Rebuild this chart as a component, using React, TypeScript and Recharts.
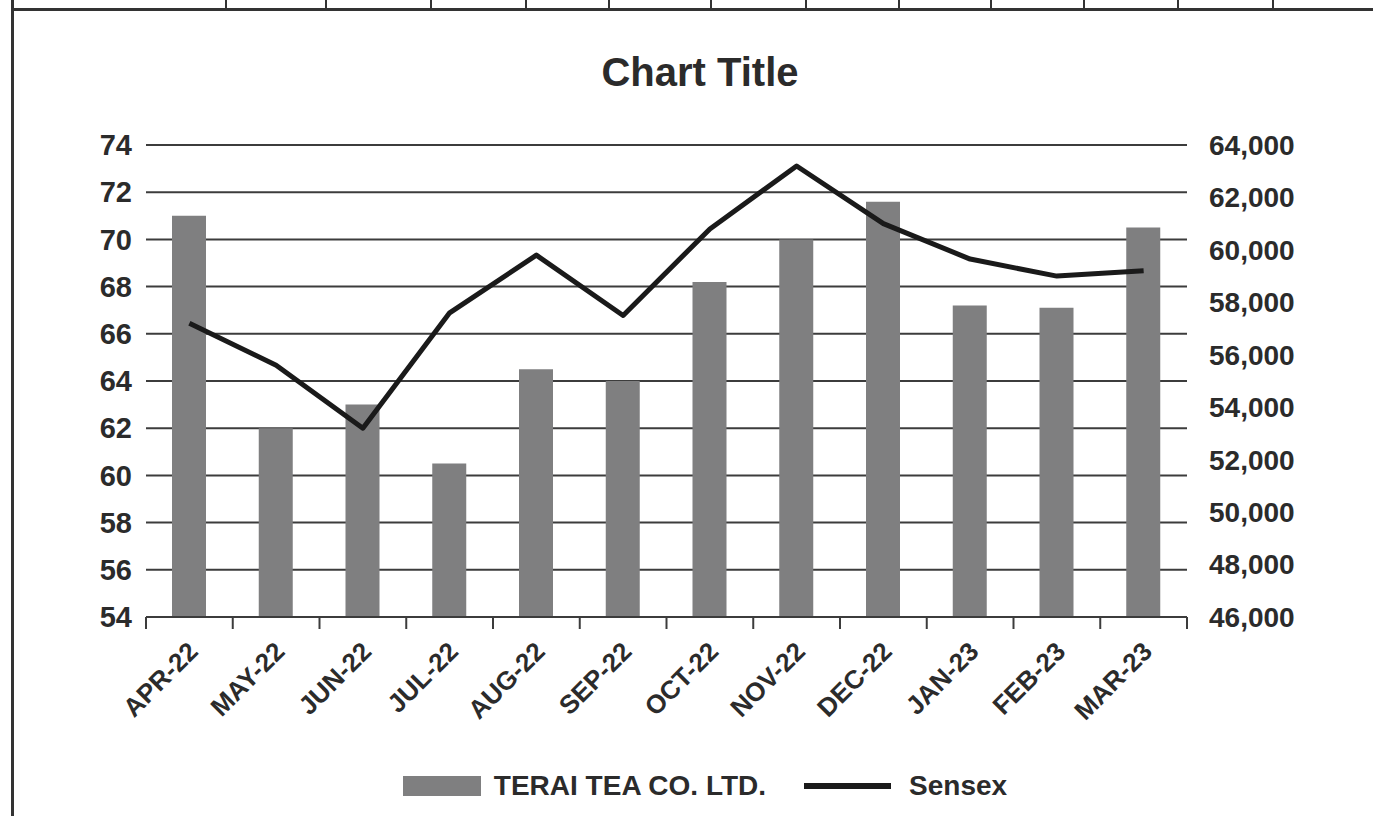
import { ComposedChart, Bar, Line, XAxis, YAxis, CartesianGrid, Legend } from 'recharts';

const MONTHS = ['APR-22', 'MAY-22', 'JUN-22', 'JUL-22', 'AUG-22', 'SEP-22', 'OCT-22', 'NOV-22', 'DEC-22', 'JAN-23', 'FEB-23', 'MAR-23'];
const TERAI = [71.0, 62.0, 63.0, 60.5, 64.5, 64.0, 68.2, 70.0, 71.6, 67.2, 67.1, 70.5];
const SENSEX = [57200, 55600, 53200, 57600, 59800, 57500, 60800, 63200, 61000, 59650, 59000, 59200];
const LEFT_TICKS = [54, 56, 58, 60, 62, 64, 66, 68, 70, 72, 74];
const RIGHT_TICKS = [46000, 48000, 50000, 52000, 54000, 56000, 58000, 60000, 62000, 64000];
const TOP_CELLS = [225, 325, 430, 525, 608, 710, 805, 898, 990, 1083, 1177, 1272];

const data = MONTHS.map((m, i) => ({ month: m, terai: TERAI[i], sensex: SENSEX[i] }));

const FONT = '"Liberation Sans", Arial, sans-serif';
const INK = '#2b2b2b';
const GRID = '#3c3c3c';
const BAR = '#7f7f80';
const LINE = '#1a1a1a';

const W = 1373;
const H = 816;
const PLOT_L = 146;
const PLOT_R = 1187;
const HALF_BAND = (PLOT_R - PLOT_L) / MONTHS.length / 2;

function MonthTick(props: any) {
  const { x, y, payload, index } = props;
  const tx = x + 10;
  const ty = y + 36;
  return (
    <g>
      <line x1={x - HALF_BAND} x2={x - HALF_BAND} y1={y} y2={y + 12} stroke={GRID} strokeWidth={2} />
      {index === MONTHS.length - 1 && (
        <line x1={x + HALF_BAND} x2={x + HALF_BAND} y1={y} y2={y + 12} stroke={GRID} strokeWidth={2} />
      )}
      <text
        x={tx}
        y={ty}
        textAnchor="end"
        transform={`rotate(-45 ${tx} ${ty})`}
        fontFamily={FONT}
        fontWeight="bold"
        fontSize={26}
        fill={INK}
      >
        {payload.value}
      </text>
    </g>
  );
}

function LegendBox() {
  return (
    <div style={{ display: 'flex', alignItems: 'center', justifyContent: 'center', fontFamily: FONT, fontWeight: 'bold', fontSize: 28, color: INK }}>
      <span style={{ width: 78, height: 20, background: BAR, display: 'inline-block', marginRight: 13 }} />
      <span>TERAI TEA CO. LTD.</span>
      <span style={{ width: 87, height: 6, background: LINE, display: 'inline-block', marginLeft: 38, marginRight: 18 }} />
      <span>Sensex</span>
    </div>
  );
}

export default function App() {
  return (
    <div style={{ position: 'absolute', left: 0, top: 0, width: W, height: H, background: '#fff', overflow: 'hidden' }}>
      {/* scanned page frame */}
      <div style={{ position: 'absolute', left: 11, top: 0, width: 3, height: H, background: '#333' }} />
      <div style={{ position: 'absolute', left: 11, top: 8, width: W - 11, height: 3, background: '#333' }} />
      {TOP_CELLS.map((x) => (
        <div key={x} style={{ position: 'absolute', left: x, top: 0, width: 2, height: 10, background: '#333' }} />
      ))}

      <div style={{ position: 'absolute', left: 0, top: 50, width: 1400, textAlign: 'center', fontFamily: FONT, fontWeight: 'bold', fontSize: 40, color: INK }}>
        Chart Title
      </div>

      <ComposedChart width={W} height={H} data={data} margin={{ top: 145, right: 66, bottom: 99, left: 46 }}>
        <CartesianGrid yAxisId="left" vertical={false} stroke={GRID} strokeWidth={2} />
        <XAxis
          dataKey="month"
          height={100}
          interval={0}
          tickLine={false}
          tickSize={0}
          tickMargin={0}
          axisLine={{ stroke: GRID, strokeWidth: 2 }}
          tick={<MonthTick />}
        />
        <YAxis
          yAxisId="left"
          width={100}
          domain={[54, 74]}
          ticks={LEFT_TICKS}
          interval={0}
          axisLine={false}
          tickLine={false}
          tickSize={0}
          tickMargin={14}
          tick={{ fontFamily: FONT, fontWeight: 'bold', fontSize: 29, fill: INK }}
        />
        <YAxis
          yAxisId="right"
          orientation="right"
          width={120}
          domain={[46000, 64000]}
          ticks={RIGHT_TICKS}
          interval={0}
          axisLine={false}
          tickLine={false}
          tickSize={0}
          tickMargin={22}
          tickFormatter={(v: number) => v.toLocaleString('en-US')}
          tick={{ fontFamily: FONT, fontWeight: 'bold', fontSize: 28, fill: INK }}
        />
        <Bar yAxisId="left" dataKey="terai" name="TERAI TEA CO. LTD." fill={BAR} barSize={34} isAnimationActive={false} />
        <Line
          yAxisId="right"
          type="linear"
          dataKey="sensex"
          name="Sensex"
          stroke={LINE}
          strokeWidth={5}
          strokeLinejoin="round"
          dot={false}
          activeDot={false}
          isAnimationActive={false}
        />
        <Legend
          layout="horizontal"
          verticalAlign="middle"
          align="center"
          content={<LegendBox />}
          wrapperStyle={{ position: 'absolute', top: 770, left: 0, width: 1410 }}
        />
      </ComposedChart>
    </div>
  );
}
